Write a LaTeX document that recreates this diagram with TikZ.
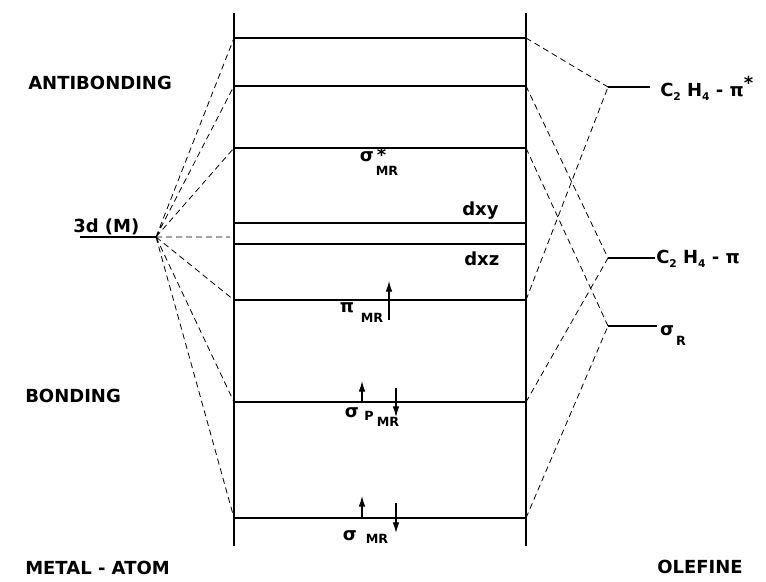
\documentclass[tikz,border=0pt]{standalone}
\usepackage{fontspec}
\setmainfont{DejaVu Sans}
\usetikzlibrary{arrows.meta}
\begin{document}
\begin{tikzpicture}[x=0.75pt,y=-0.75pt,
  level/.style={line width=1.6pt},
  frame/.style={line width=1.9pt},
  corr/.style={line width=0.6pt,dash pattern=on 4.5pt off 3pt},
  spin/.style={line width=0.9pt,-{Latex[length=8pt,width=5pt]}},
  lab/.style={font=\bfseries\fontsize{13.5}{15}\selectfont,inner sep=0pt},
  sub/.style={font=\bfseries\fontsize{9.5}{11}\selectfont,inner sep=0pt}]
\useasboundingbox (0,0) rectangle (766,581);
% complex levels
\coordinate (t1) at (234,13); \coordinate (b1) at (234,546);
\coordinate (t2) at (526,13); \coordinate (b2) at (526,546);
\draw[frame] (t1)--(b1) (t2)--(b2);
\coordinate (aa) at (234,38);  \coordinate (ab) at (526,38);
\coordinate (ba) at (234,86);  \coordinate (bb) at (526,86);
\coordinate (ca) at (234,148); \coordinate (cb) at (526,148);
\coordinate (xya) at (234,223); \coordinate (xyb) at (526,223);
\coordinate (xza) at (234,244); \coordinate (xzb) at (526,244);
\coordinate (na) at (230,237);
\coordinate (pa) at (234,300); \coordinate (pb) at (526,300);
\coordinate (sa) at (234,402); \coordinate (sb) at (526,402);
\coordinate (ma) at (234,518); \coordinate (mb) at (526,518);
\draw[line width=2.1pt] (aa)--(ab);
\draw[level] (ba)--(bb) (ca)--(cb) (xya)--(xyb) (xza)--(xzb);
\draw[level] (pa)--(pb) (sa)--(sb) (ma)--(mb);
% metal 3d
\coordinate (m0) at (80,237); \coordinate (m3d) at (156,237);
\draw[level] (m0)--(m3d);
\draw[corr] (m3d)--(aa) (m3d)--(ba) (m3d)--(ca) (m3d)--(na);
\draw[corr] (m3d)--(pa) (m3d)--(sa) (m3d)--(ma);
% olefine levels
\coordinate (ps) at (608,87);  \coordinate (ps2) at (650,87);
\coordinate (pi) at (608,258); \coordinate (pi2) at (655,258);
\coordinate (sr) at (608,326); \coordinate (sr2) at (657,326);
\draw[level] (ps)--(ps2) (pi)--(pi2) (sr)--(sr2);
\draw[corr] (ab)--(ps) (bb)--(pi) (cb)--(sr);
\draw[corr] (pb)--(ps) (sb)--(pi) (mb)--(sr);
% electrons
\draw[spin] (389,320)--(389,281);
\draw[spin] (362,403)--(362,381);
\draw[spin] (396,388)--(396,417);
\draw[spin] (362,519)--(362,496);
\draw[spin] (396,503)--(396,533);
% texts
\node[lab,anchor=west] (anti) at (28,83) {ANTIBONDING};
\node[lab,anchor=west] (bond) at (25,396) {BONDING};
\node[lab,anchor=west] (metal) at (25,568) {METAL - ATOM};
\node[lab,anchor=west] (olef) at (657,567) {OLEFINE};
\node[lab,anchor=west] (d3) at (73,227) {3d (M)};
\node[lab,anchor=west] (dxy) at (462,211) {dxy};
\node[lab,anchor=west] (dxz) at (464,259) {dxz};
\node[lab] (sst) at (373,155) {σ\,*};
\node[sub] (sstm) at (387,171) {MR};
\node[lab] (pmr) at (347,308) {π};
\node[sub] (pmrm) at (372,318) {MR};
\node[lab] (spm) at (352,413) {σ};
\node[sub] (spmp) at (369,416) {P};
\node[sub] (spmm) at (388,422) {MR};
\node[lab] (smr) at (350,536) {σ};
\node[sub] (smrm) at (377,539) {MR};
\node[lab,anchor=west] (lps) at (660,88) {C\raisebox{-3pt}{\footnotesize 2} H\raisebox{-3pt}{\footnotesize 4} - π\raisebox{5pt}{*}};
\node[lab,anchor=west] (lpi) at (656,259) {C\raisebox{-3pt}{\footnotesize 2} H\raisebox{-3pt}{\footnotesize 4} - π};
\node[lab] (lsr) at (667,331) {σ};
\node[sub] (lsrr) at (681,341) {R};
\end{tikzpicture}
\end{document}
